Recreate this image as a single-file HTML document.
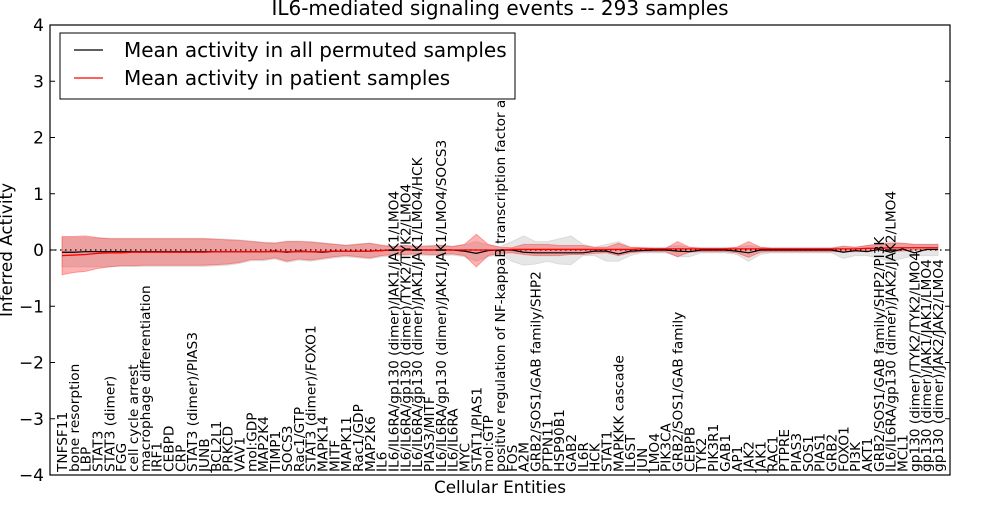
<!DOCTYPE html>
<html><head><meta charset="utf-8"><style>
body{margin:0;background:#fff}
svg text{font-family:"DejaVu Sans","Liberation Sans",sans-serif}
</style></head><body>
<svg id="c" width="1000" height="500" xmlns="http://www.w3.org/2000/svg">
<defs><clipPath id="lc"><rect x="0" y="80" width="1000" height="420"/></clipPath></defs>
<rect width="1000" height="500" fill="#fff"/>
<text x="500" y="15" font-size="20" text-anchor="middle">IL6-mediated signaling events -- 293 samples</text>
<g id="plot"></g>
<g id="labels" clip-path="url(#lc)"></g>
<text transform="translate(12,250) rotate(-90)" font-size="16.8" text-anchor="middle">Inferred Activity</text>
<text x="500" y="493" font-size="16.8" text-anchor="middle">Cellular Entities</text>
<g>
<rect x="60" y="33" width="455" height="66" fill="#fff" stroke="#000" stroke-width="1"/>
<line x1="74" y1="50" x2="103" y2="50" stroke="#000" stroke-width="1.3"/>
<text x="124" y="57" font-size="20">Mean activity in all permuted samples</text>
<line x1="74" y1="78" x2="103" y2="78" stroke="#f00" stroke-width="1.3"/>
<text x="124" y="85" font-size="20">Mean activity in patient samples</text>
</g>
</svg>
<script>
const categories=["TNFSF11","bone resorption","LBP","STAT3","STAT3 (dimer)","FGG","cell cycle arrest","macrophage differentiation","IRF1","CEBPD","CRP","STAT3 (dimer)/PIAS3","JUNB","BCL2L1","PRKCD","VAV1","mol:GDP","MAP2K4","TIMP1","SOCS3","Rac1/GTP","STAT3 (dimer)/FOXO1","MAPK14","MITF","MAPK11","Rac1/GDP","MAP2K6","IL6","IL6/IL6RA/gp130 (dimer)/JAK1/JAK1/LMO4","IL6/IL6RA/gp130 (dimer)/TYK2/TYK2/LMO4","IL6/IL6RA/gp130 (dimer)/JAK1/JAK1/LMO4/HCK","PIAS3/MITF","IL6/IL6RA/gp130 (dimer)/JAK1/JAK1/LMO4/SOCS3","IL6/IL6RA","MYC","STAT1/PIAS1","mol:GTP","positive regulation of NF-kappaB transcription factor activity","FOS","A2M","GRB2/SOS1/GAB family/SHP2","PTPN11","HSP90B1","GAB2","IL6R","HCK","STAT1","MAPKKK cascade","IL6ST","JUN","LMO4","PIK3CA","GRB2/SOS1/GAB family","CEBPB","TYK2","PIK3R1","GAB1","AP1","JAK2","JAK1","RAC1","PTPRE","PIAS3","SOS1","PIAS1","GRB2","FOXO1","PI3K","AKT1","GRB2/SOS1/GAB family/SHP2/PI3K","IL6/IL6RA/gp130 (dimer)/JAK2/JAK2/LMO4","MCL1","gp130 (dimer)/TYK2/TYK2/LMO4","gp130 (dimer)/JAK1/JAK1/LMO4","gp130 (dimer)/JAK2/JAK2/LMO4"];
const redMean=[-.1,-.09,-.08,-.06,-.05,-.05,-.04,-.04,-.04,-.04,-.04,-.04,-.04,-.03,-.03,-.03,-.03,-.03,-.03,-.03,-.03,-.03,-.03,-.02,-.02,-.02,-.02,-.01,0,0,0,0,0,0,0,0,0,0,.01,.01,.01,.01,.01,.01,.01,.01,.01,.01,.01,.02,.02,.02,.02,.02,.02,.02,.02,.02,.02,.02,.02,.02,.02,.02,.02,.02,.02,.02,.03,.03,.04,.04,.04,.04,.04];
const blackMean=[-.04,-.04,-.03,-.03,-.03,-.03,-.03,-.03,-.03,-.03,-.03,-.03,-.03,-.03,-.03,-.03,-.03,-.03,-.02,-.04,-.02,-.03,-.04,-.02,-.02,-.02,-.02,-.01,0,0,0,0,0,0,-.02,-.06,-.01,0,0,-.04,-.05,-.05,-.05,-.05,-.05,-.02,-.02,-.07,-.02,-.01,0,0,-.02,-.03,0,0,0,-.02,-.05,0,0,0,0,0,0,0,-.04,-.01,-.03,.01,-.04,.02,-.05,.01,.01];
const redHi=[.24,.24,.25,.22,.2,.2,.2,.2,.2,.2,.2,.2,.2,.19,.18,.17,.15,.13,.12,.15,.15,.14,.12,.1,.08,.1,.12,.08,.06,.08,.06,.07,.08,.06,.1,.28,.1,.05,.04,.1,.1,.1,.08,.08,.08,.05,.05,.12,.05,.04,.03,.03,.15,.05,.03,.03,.03,.05,.15,.05,.03,.03,.03,.03,.03,.03,.07,.05,.08,.1,.12,.12,.1,.1,.1];
const redLo=[-.44,-.4,-.38,-.33,-.3,-.28,-.28,-.27,-.27,-.27,-.27,-.27,-.27,-.26,-.25,-.22,-.17,-.17,-.14,-.2,-.16,-.18,-.15,-.12,-.1,-.12,-.14,-.1,-.08,-.08,-.07,-.08,-.08,-.07,-.1,-.3,-.1,-.06,-.05,-.08,-.1,-.1,-.1,-.08,-.08,-.06,-.05,-.1,-.05,-.03,-.03,-.03,-.12,-.04,-.03,-.03,-.03,-.05,-.13,-.04,-.03,-.03,-.03,-.03,-.03,-.03,-.03,-.03,-.02,0,-.02,-.02,0,0,0];
const grayHi=[.22,.22,.22,.21,.21,.21,.21,.21,.21,.21,.21,.21,.21,.2,.19,.18,.16,.14,.13,.16,.16,.15,.13,.11,.09,.11,.12,.09,.07,.09,.07,.08,.09,.07,.09,.15,.09,.06,.15,.25,.15,.15,.2,.25,.1,.05,.1,.15,.05,.05,.05,.05,.08,.05,.05,.05,.05,.05,.08,.05,.05,.05,.05,.05,.05,.05,.06,.05,.08,.12,.15,.12,.1,.1,.1];
const grayLo=[-.3,-.3,-.3,-.3,-.3,-.29,-.29,-.29,-.29,-.29,-.29,-.29,-.29,-.28,-.27,-.24,-.19,-.19,-.16,-.22,-.18,-.2,-.17,-.14,-.12,-.14,-.16,-.12,-.1,-.1,-.09,-.1,-.1,-.09,-.12,-.2,-.12,-.08,-.2,-.27,-.25,-.2,-.25,-.26,-.1,-.1,-.2,-.2,-.1,-.05,-.05,-.05,-.12,-.12,-.05,-.05,-.05,-.08,-.2,-.08,-.05,-.05,-.05,-.05,-.05,-.05,-.15,-.1,-.1,-.15,-.2,-.15,-.1,-.1,-.1];
const yTicks=[-4,-3,-2,-1,0,1,2,3,4];

const NS="http://www.w3.org/2000/svg";
const L=50,R=950,T=25,B=475;
const xs=i=>62+i*(938-62)/(categories.length-1);
const ys=v=>250-v*(B-T)/8;
const plot=document.getElementById('plot');
const labels=document.getElementById('labels');
function mk(tag,attrs,parent){const e=document.createElementNS(NS,tag);for(const k in attrs)e.setAttribute(k,attrs[k]);(parent||plot).appendChild(e);return e;}
function band(hi,lo){let d='';hi.forEach((v,i)=>d+=(i?'L':'M')+xs(i)+','+ys(v));for(let i=lo.length-1;i>=0;i--)d+='L'+xs(i)+','+ys(lo[i]);return d+'Z';}
function line(arr){let d='';arr.forEach((v,i)=>d+=(i?'L':'M')+xs(i)+','+ys(v));return d;}
const g1=mk('path',{d:band(grayHi,grayLo),fill:'#c8c8c8','fill-opacity':'0.45',stroke:'#bbb','stroke-opacity':'0.4'});


const r1=mk('path',{d:band(redHi,redLo),fill:'#f00','fill-opacity':'0.3',stroke:'#f00','stroke-opacity':'0.3'});


const z=mk('line',{x1:L,x2:R,y1:ys(0),y2:ys(0),stroke:'#000','stroke-dasharray':'1.5,3.5','stroke-width':1.2});


const bl=mk('path',{d:line(blackMean),fill:'none',stroke:'#000','stroke-width':1.2});


const rl=mk('path',{d:line(redMean),fill:'none',stroke:'#f00','stroke-width':1.3});


yTicks.forEach(v=>{
  const y=ys(v);
  mk('line',{x1:L,x2:L+5,y1:y,y2:y,stroke:'#000'});
  mk('line',{x1:R-5,x2:R,y1:y,y2:y,stroke:'#000'});
  const t=mk('text',{x:L-6,y:y+6,'font-size':17,'text-anchor':'end'});
  t.textContent=v<0?'\u2212'+(-v):String(v);
  
  
});
categories.forEach((c,i)=>{
  const x=xs(i);
  const t=mk('text',{transform:`translate(${x+5},${B-3}) rotate(-90)`,'font-size':13.7},labels);
  t.textContent=c;
  
  
});
const f=mk('rect',{x:L,y:T,width:R-L,height:B-T,fill:'none',stroke:'#000','stroke-width':1.2});


</script>
</body></html>
